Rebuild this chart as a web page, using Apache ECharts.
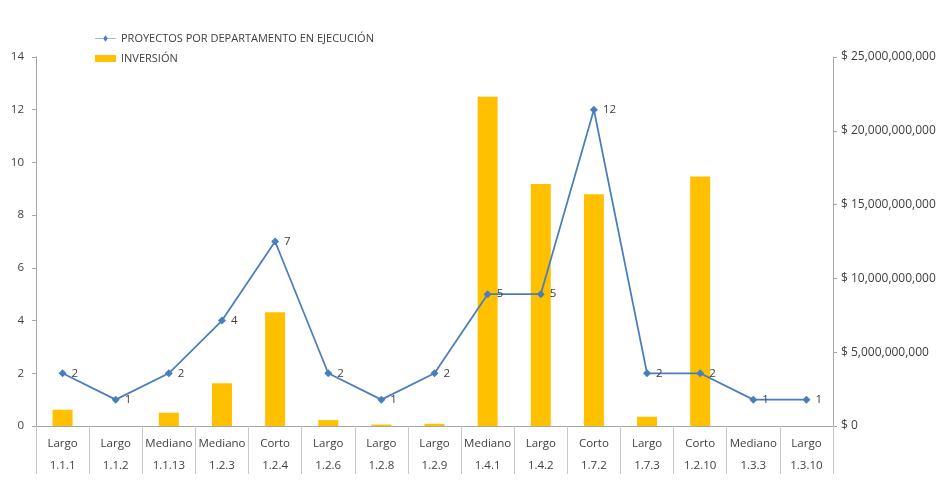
<!DOCTYPE html>
<html><head><meta charset="utf-8">
<script src="https://cdn.jsdelivr.net/npm/echarts@6/dist/echarts.min.js"></script>
<style>html,body{margin:0;padding:0;background:#fff}#c{width:943px;height:488px}</style>
</head><body><div id="c"></div>
<script>
const plazos = ["Largo","Largo","Mediano","Mediano","Corto","Largo","Largo","Largo","Mediano","Largo","Corto","Largo","Corto","Mediano","Largo"];
const codigos = ["1.1.1","1.1.2","1.1.13","1.2.3","1.2.4","1.2.6","1.2.8","1.2.9","1.4.1","1.4.2","1.7.2","1.7.3","1.2.10","1.3.3","1.3.10"];
const proyectos = [2,1,2,4,7,2,1,2,5,5,12,2,2,1,1];
const inversion = [1100000000,0,900000000,2900000000,7700000000,400000000,100000000,150000000,22300000000,16400000000,15700000000,630000000,16900000000,0,0];
const leftTicks = {min:0,max:14,interval:2};
const rightTicks = {min:0,max:25000000000,interval:5000000000};

const categories = codigos.map((c,i)=>plazos[i]+"\n"+c);
const font = "'Open Sans', 'Liberation Sans', Arial, sans-serif";
const chart = echarts.init(document.getElementById('c'));
chart.setOption({
  animation:false,
  backgroundColor:'#fff',
  textStyle:{fontFamily:font},
  legend:{
    orient:'vertical', left:90, top:28, itemGap:9, itemWidth:21, itemHeight:7,
    textStyle:{fontSize:11, color:'#404040', fontFamily:font},
    data:[
      {name:'PROYECTOS POR DEPARTAMENTO EN EJECUCIÓN', icon:'path://M0,3.2 L8,3.2 L10,0.5 L12,3.2 L20,3.2 L20,3.8 L12,3.8 L10,6.5 L8,3.8 L0,3.8 Z'},
      {name:'INVERSIÓN', icon:'rect'}
    ]
  },
  grid:{left:36, right:110, top:57, bottom:62},
  xAxis:{
    type:'category', data:categories, boundaryGap:true,
    axisLine:{lineStyle:{color:'#a6a6a6'}},
    axisTick:{show:true, length:48, inside:false, lineStyle:{color:'#c8c8c8'}},
    axisLabel:{interval:0, fontSize:11.5, color:'#404040', lineHeight:22, margin:7}
  },
  yAxis:[
    {type:'value', position:'left', min:leftTicks.min, max:leftTicks.max, interval:leftTicks.interval,
     splitLine:{show:false},
     axisLine:{show:true, lineStyle:{color:'#a6a6a6'}},
     axisTick:{show:true, length:4, lineStyle:{color:'#a6a6a6'}},
     axisLabel:{fontSize:11.5, color:'#404040', margin:12}},
    {type:'value', position:'right', min:rightTicks.min, max:rightTicks.max, interval:rightTicks.interval,
     splitLine:{show:false},
     axisLine:{show:true, lineStyle:{color:'#a6a6a6'}},
     axisTick:{show:true, length:4, lineStyle:{color:'#a6a6a6'}},
     axisLabel:{fontSize:12, color:'#404040', margin:8,
       formatter:v=>'$ '+v.toString().replace(/\B(?=(\d{3})+(?!\d))/g, ',')}}
  ],
  series:[
    {name:'INVERSIÓN', type:'bar', yAxisIndex:1, data:inversion, barWidth:20,
     itemStyle:{color:'#FFC000'}},
    {name:'PROYECTOS POR DEPARTAMENTO EN EJECUCIÓN', type:'line', yAxisIndex:0, data:proyectos,
     symbol:'diamond', symbolSize:8,
     lineStyle:{color:'#4a7ebb', width:1.75},
     itemStyle:{color:'#4a7ebb'},
     label:{show:true, position:'right', distance:5, fontSize:11.5, color:'#404040'}}
  ]
});
</script></body></html>
